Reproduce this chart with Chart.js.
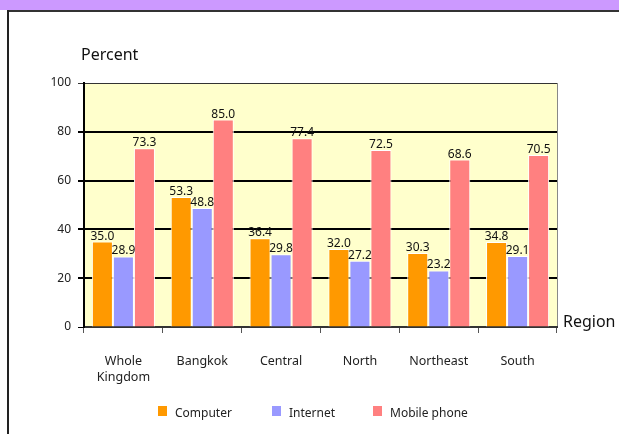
<!DOCTYPE html>
<html>
<head>
<meta charset="utf-8">
<script src="https://cdn.jsdelivr.net/npm/chart.js@4/dist/chart.umd.min.js"></script>
<style>
  html, body { margin: 0; padding: 0; background: #fff; width: 619px; height: 434px; overflow: hidden; font-family: "Noto Sans", sans-serif; }
  #band { position: absolute; left: 0; top: 0; width: 619px; height: 10px; background: #CC99FF; }
  #topline { position: absolute; left: 7px; top: 10px; width: 612px; height: 2px; background: #333; }
  #leftline { position: absolute; left: 7px; top: 10px; width: 2px; height: 424px; background: #222; }
  #wrap { position: absolute; left: 0; top: 0; width: 619px; height: 434px; }
  #legend { position: absolute; top: 404px; left: 0; width: 619px; height: 20px; font-size: 12px; color: #222; }
  .item { position: absolute; top: 0; display: flex; align-items: center; height: 16px; }
  .sw { width: 9px; height: 10px; margin-right: 8px; margin-top: -2px; }
</style>
</head>
<body>
<div id="band"></div>
<div id="topline"></div>
<div id="leftline"></div>
<div id="wrap"><canvas id="c" width="619" height="434"></canvas></div>
<div id="legend"></div>
<script>
const categories = [["Whole", "Kingdom"], "Bangkok", "Central", "North", "Northeast", "South"];
const seriesNames = ["Computer", "Internet", "Mobile phone"];
const computer = [35.0, 53.3, 36.4, 32.0, 30.3, 34.8];
const internet = [28.9, 48.8, 29.8, 27.2, 23.2, 29.1];
const mobile = [73.3, 85.0, 77.4, 72.5, 68.6, 70.5];
const yTicks = [0, 20, 40, 60, 80, 100];
const colors = ["#FF9900", "#9999FF", "#FF8080"];
const FONT = '"Noto Sans", sans-serif';

const bgPlugin = {
  id: 'bg',
  beforeDraw(chart) {
    const {ctx, chartArea: a} = chart;
    ctx.save();
    ctx.fillStyle = '#FFFFCC';
    ctx.fillRect(a.left, a.top, a.right - a.left, a.bottom - a.top);
    ctx.strokeStyle = '#888';
    ctx.lineWidth = 1;
    ctx.beginPath();
    ctx.moveTo(a.right + 0.5, a.top);
    ctx.lineTo(a.right + 0.5, a.bottom);
    ctx.stroke();
    ctx.restore();
  },
  afterDraw(chart) {
    const {ctx, chartArea: a} = chart;
    ctx.save();
    ctx.fillStyle = '#111';
    ctx.font = '16px ' + FONT;
    ctx.textBaseline = 'alphabetic';
    ctx.textAlign = 'left';
    ctx.fillText('Percent', a.left - 3, a.top - 23);
    ctx.fillText('Region', a.right + 6, a.bottom);
    ctx.restore();
  }
};

const valuePlugin = {
  id: 'values',
  afterDatasetsDraw(chart) {
    const {ctx} = chart;
    ctx.save();
    ctx.fillStyle = '#111';
    ctx.font = '12px ' + FONT;
    ctx.textAlign = 'center';
    ctx.textBaseline = 'alphabetic';
    chart.data.datasets.forEach((ds, i) => {
      const meta = chart.getDatasetMeta(i);
      meta.data.forEach((bar, j) => {
        ctx.fillText(ds.data[j].toFixed(1), bar.x, bar.y - 2);
      });
    });
    ctx.restore();
  }
};

const chart = new Chart(document.getElementById('c'), {
  type: 'bar',
  data: {
    labels: categories,
    datasets: [
      { label: seriesNames[0], data: computer, backgroundColor: colors[0] },
      { label: seriesNames[1], data: internet, backgroundColor: colors[1] },
      { label: seriesNames[2], data: mobile, backgroundColor: colors[2] }
    ].map(d => Object.assign(d, { borderColor: '#fff', borderWidth: 1, categoryPercentage: 0.8, barPercentage: 1 }))
  },
  options: {
    responsive: false,
    animation: false,
    devicePixelRatio: 1,
    layout: { padding: { left: 0, top: 83, right: 62, bottom: 50 } },
    plugins: { legend: { display: false }, tooltip: { enabled: false } },
    scales: {
      x: {
        grid: { offset: true, drawOnChartArea: false, color: '#555', tickLength: 6, lineWidth: 1 },
        border: { color: '#333', width: 2 },
        ticks: { color: '#222', font: { family: FONT, size: 12.5, lineHeight: 1.3 }, padding: 20, maxRotation: 0, autoSkip: false },
        afterFit(s) { s.height = 57; }
      },
      y: {
        min: 0, max: 100,
        afterBuildTicks(s) { s.ticks = yTicks.map(v => ({ value: v })); },
        grid: {
          color: ctx => ctx.tick && ctx.tick.value === 100 ? '#333' : '#000',
          lineWidth: ctx => ctx.tick && (ctx.tick.value === 100 || ctx.tick.value === 0) ? 1 : 2,
          tickLength: 6
        },
        border: { color: '#000', width: 2 },
        ticks: { color: '#222', font: { family: FONT, size: 12 }, padding: 7 },
        afterFit(s) { s.width = 84; }
      }
    }
  },
  plugins: [bgPlugin, valuePlugin]
});

// HTML legend built from the series
const legend = document.getElementById('legend');
const legendX = [158, 272, 373];
seriesNames.forEach((n, i) => {
  const it = document.createElement('div');
  it.className = 'item';
  it.style.left = legendX[i] + 'px';
  const sw = document.createElement('span');
  sw.className = 'sw';
  sw.style.background = colors[i];
  const t = document.createElement('span');
  t.textContent = n;
  it.appendChild(sw); it.appendChild(t);
  legend.appendChild(it);
});
</script>
</body>
</html>
